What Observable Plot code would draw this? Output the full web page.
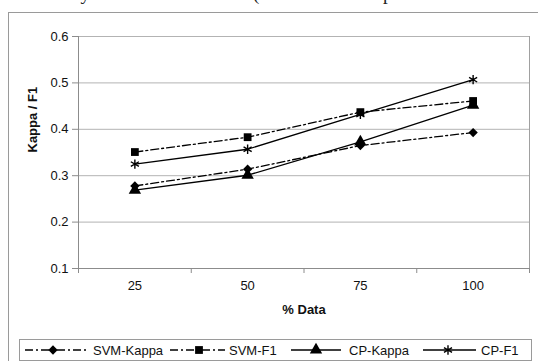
<!DOCTYPE html>
<html>
<head>
<meta charset="utf-8">
<script src="https://cdn.jsdelivr.net/npm/d3@7"></script>
<script src="https://cdn.jsdelivr.net/npm/@observablehq/plot@0.6"></script>
<style>
  html, body { margin: 0; padding: 0; background: #fff; overflow: hidden; width: 538px; height: 361px; }
  #wrap { position: relative; width: 538px; height: 361px; overflow: hidden; }
  #toptext { position: absolute; left: -6px; top: -17px; font-family: "Liberation Serif", serif; font-size: 19px; color: #222; white-space: nowrap; }
  #frame { position: absolute; left: 8px; top: 12px; width: 600px; height: 400px; border: 1px solid #9a9a9a; }
  #chart { position: absolute; left: 0; top: 0; }
  #legend { position: absolute; left: 19px; top: 339px; width: 511px; height: 20px; border: 1px solid #9a9a9a; background: #fff; }
</style>
</head>
<body>
<div id="wrap">
  <div id="toptext">urves. Analysis of our best model (the CP-F1 exemplar</div>
  <div id="frame"></div>
  <div id="chart"></div>
  <div id="legend"></div>
</div>
<script>
const xCategories = [25, 50, 75, 100];
const xTickLabels = ["25", "50", "75", "100"];
const yTicks = [0.1, 0.2, 0.3, 0.4, 0.5, 0.6];
const seriesNames = ["SVM-Kappa", "SVM-F1", "CP-Kappa", "CP-F1"];
const svmKappa = [0.278, 0.314, 0.365, 0.393];
const svmF1 = [0.351, 0.383, 0.437, 0.461];
const cpKappa = [0.269, 0.301, 0.373, 0.452];
const cpF1 = [0.325, 0.357, 0.432, 0.507];

const seriesValues = [svmKappa, svmF1, cpKappa, cpF1];
const styles = {
  "SVM-Kappa": {dash: "8,3,2,3", symbol: "diamond2", r: 4.2, fill: "black", stroke: "none"},
  "SVM-F1":    {dash: "8,3,2,3", symbol: "square", r: 4.4, fill: "black", stroke: "none"},
  "CP-Kappa":  {dash: null, symbol: "triangle", r: 4.6, fill: "black", stroke: "none"},
  "CP-F1":     {dash: null, symbol: "asterisk", r: 4.4, fill: "none", stroke: "black"}
};

const rows = [];
seriesNames.forEach((name, i) => {
  xCategories.forEach((x, j) => rows.push({series: name, x, y: seriesValues[i][j]}));
});

const lineMarks = seriesNames.map(name => Plot.line(rows.filter(d => d.series === name), {
  x: "x", y: "y", stroke: "black", strokeWidth: 1.3,
  strokeDasharray: styles[name].dash || undefined
}));
const dotMarks = seriesNames.map(name => Plot.dot(rows.filter(d => d.series === name), {
  x: "x", y: "y", symbol: () => styles[name].symbol, r: styles[name].r,
  fill: styles[name].fill, stroke: styles[name].stroke, strokeWidth: 1.4
}));

const xLo = 12.5, xHi = 112.5;
const boundaries = [12.5, 37.5, 62.5, 87.5, 112.5];

const chart = Plot.plot({
  width: 538,
  height: 330,
  marginLeft: 78,
  marginRight: 9,
  marginTop: 36,
  marginBottom: 62,
  x: {domain: [xLo, xHi]},
  y: {domain: [0.1, 0.6]},
  style: {fontFamily: "'Liberation Sans', Arial, sans-serif", fontSize: "13px", color: "#111", background: "transparent"},
  marks: [
    Plot.gridY({ticks: yTicks.slice(1), stroke: "#b3b3b3", strokeOpacity: 1}),
    Plot.ruleX([xHi], {stroke: "#a0a0a0"}),
    Plot.ruleY([0.1], {stroke: "#8c8c8c"}),
    Plot.ruleX([xLo], {stroke: "#8c8c8c"}),
    Plot.axisY({ticks: yTicks, tickFormat: d => d.toFixed(1), tickSize: 6, tickPadding: 4, label: null, stroke: "#8c8c8c"}),
    Plot.axisX({ticks: boundaries, tickFormat: () => "", tickSize: 5, label: null, stroke: "#8c8c8c"}),
    Plot.axisX({ticks: xCategories, tickFormat: (d, i) => xTickLabels[i], tickSize: 0, tickPadding: 12, label: null}),
    Plot.text(["Kappa / F1"], {frameAnchor: "left", text: d => d, rotate: -90, dx: -46, fontWeight: "bold", fontSize: 13}),
    Plot.text(["% Data"], {frameAnchor: "bottom", text: d => d, dy: 45, fontWeight: "bold", fontSize: 13}),
    ...lineMarks,
    ...dotMarks
  ]
});
document.getElementById("chart").appendChild(chart);

// Legend
const legendPos = [
  {x0: 5, x1: 68, sx: 33, tx: 73},
  {x0: 150, x1: 205, sx: 179, tx: 209},
  {x0: 271, x1: 321, sx: 296, tx: 329},
  {x0: 403, x1: 456, sx: 428, tx: 461}
];
const lsvg = d3.select("#legend").append("svg").attr("width", 511).attr("height", 20)
  .style("font-family", "'Liberation Sans', Arial, sans-serif").style("font-size", "13px");
const symMap = {diamond2: d3.symbolDiamond2, square: d3.symbolSquare, triangle: d3.symbolTriangle, asterisk: d3.symbolAsterisk};
seriesNames.forEach((name, i) => {
  const p = legendPos[i], st = styles[name];
  const g = lsvg.append("g");
  g.append("line").attr("x1", p.x0).attr("x2", p.x1).attr("y1", 10).attr("y2", 10)
    .attr("stroke", "black").attr("stroke-width", 1.3).attr("stroke-dasharray", st.dash);
  g.append("path").attr("transform", `translate(${p.sx},10)`)
    .attr("d", d3.symbol(symMap[st.symbol], Math.PI * st.r * st.r)())
    .attr("fill", st.fill).attr("stroke", st.stroke).attr("stroke-width", 1.4);
  g.append("text").attr("x", p.tx).attr("y", 10).attr("dy", "0.35em").attr("fill", "#111").text(name);
});
</script>
</body>
</html>
